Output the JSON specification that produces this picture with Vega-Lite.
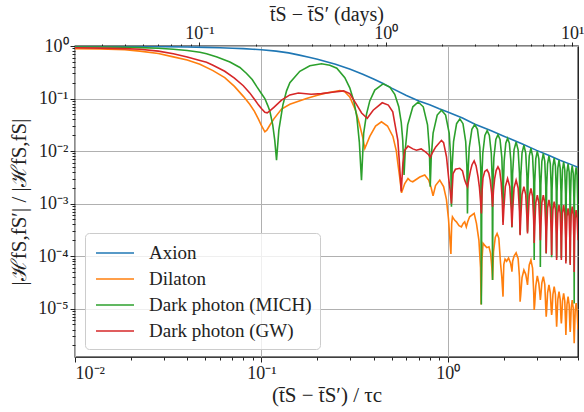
{
"$schema":"https://vega.github.io/schema/vega-lite/v6.json",
"width":503,"height":311,"autosize":"none",
"padding":{"left":75,"top":46,"right":6,"bottom":55},
"config":{"view":{"stroke":"#000","strokeWidth":1.3},"font":"Times New Roman",
 "axis":{"domain":false,"labelFont":"Times New Roman","labelFontSize":18,"labelColor":"#222","titleFont":"Times New Roman","titleFontSize":21,"titleFontWeight":"normal","titleColor":"#222","tickColor":"#222","tickWidth":1,"gridColor":"#b0b0b0","gridWidth":1,"labelOverlap":false,"labelBound":false}},
"data":{"values":[
{"s":"Axion","x":0.01,"y":0.99},{"s":"Axion","x":0.015,"y":0.985},{"s":"Axion","x":0.02,"y":0.98},{"s":"Axion","x":0.03,"y":0.97},{"s":"Axion","x":0.04,"y":0.955},{"s":"Axion","x":0.05,"y":0.94},{"s":"Axion","x":0.06,"y":0.925},{"s":"Axion","x":0.07,"y":0.905},{"s":"Axion","x":0.08,"y":0.89},{"s":"Axion","x":0.09,"y":0.87},{"s":"Axion","x":0.1,"y":0.85},{"s":"Axion","x":0.12,"y":0.8},{"s":"Axion","x":0.14,"y":0.74},{"s":"Axion","x":0.16,"y":0.67},{"s":"Axion","x":0.18,"y":0.61},{"s":"Axion","x":0.2,"y":0.56},{"s":"Axion","x":0.25,"y":0.45},{"s":"Axion","x":0.3,"y":0.36},{"s":"Axion","x":0.35,"y":0.29},{"s":"Axion","x":0.4,"y":0.235},{"s":"Axion","x":0.45,"y":0.193},{"s":"Axion","x":0.5,"y":0.158},{"s":"Axion","x":0.6,"y":0.114},{"s":"Axion","x":0.7,"y":0.09},{"s":"Axion","x":0.8,"y":0.076},{"s":"Axion","x":0.9,"y":0.064},{"s":"Axion","x":1.0,"y":0.0556},{"s":"Axion","x":1.2,"y":0.0425},{"s":"Axion","x":1.4,"y":0.0325},{"s":"Axion","x":1.7,"y":0.0245},{"s":"Axion","x":2.0,"y":0.0192},{"s":"Axion","x":2.5,"y":0.0138},{"s":"Axion","x":3.0,"y":0.0103},{"s":"Axion","x":3.5,"y":0.0082},{"s":"Axion","x":4.0,"y":0.0067},{"s":"Axion","x":4.5,"y":0.0057},{"s":"Axion","x":5.0,"y":0.0049},

{"s":"Dilaton","x":0.01,"y":0.89},{"s":"Dilaton","x":0.0136,"y":0.875},{"s":"Dilaton","x":0.0185,"y":0.85},{"s":"Dilaton","x":0.0223,"y":0.8},{"s":"Dilaton","x":0.028,"y":0.72},{"s":"Dilaton","x":0.0337,"y":0.62},{"s":"Dilaton","x":0.04,"y":0.54},{"s":"Dilaton","x":0.0468,"y":0.45},{"s":"Dilaton","x":0.055,"y":0.34},{"s":"Dilaton","x":0.0636,"y":0.25},{"s":"Dilaton","x":0.0717,"y":0.17},{"s":"Dilaton","x":0.08,"y":0.11},{"s":"Dilaton","x":0.0866,"y":0.078},{"s":"Dilaton","x":0.0918,"y":0.057},{"s":"Dilaton","x":0.0966,"y":0.04},{"s":"Dilaton","x":0.1003,"y":0.03},{"s":"Dilaton","x":0.1044,"y":0.0232},{"s":"Dilaton","x":0.107,"y":0.025},{"s":"Dilaton","x":0.111,"y":0.031},{"s":"Dilaton","x":0.1167,"y":0.041},{"s":"Dilaton","x":0.1283,"y":0.063},{"s":"Dilaton","x":0.1422,"y":0.078},{"s":"Dilaton","x":0.1745,"y":0.1},{"s":"Dilaton","x":0.198,"y":0.114},{"s":"Dilaton","x":0.2147,"y":0.124},{"s":"Dilaton","x":0.2638,"y":0.142},{"s":"Dilaton","x":0.28,"y":0.135},{"s":"Dilaton","x":0.2981,"y":0.107},{"s":"Dilaton","x":0.32,"y":0.06},{"s":"Dilaton","x":0.3357,"y":0.033},{"s":"Dilaton","x":0.35,"y":0.018},{"s":"Dilaton","x":0.359,"y":0.0112},{"s":"Dilaton","x":0.3817,"y":0.019},{"s":"Dilaton","x":0.41,"y":0.03},{"s":"Dilaton","x":0.441,"y":0.036},{"s":"Dilaton","x":0.475,"y":0.03},{"s":"Dilaton","x":0.508,"y":0.019},{"s":"Dilaton","x":0.53,"y":0.01},{"s":"Dilaton","x":0.54,"y":0.0058},{"s":"Dilaton","x":0.555,"y":0.0028},{"s":"Dilaton","x":0.5651,"y":0.0016},{"s":"Dilaton","x":0.588,"y":0.0024},{"s":"Dilaton","x":0.612,"y":0.003},{"s":"Dilaton","x":0.63,"y":0.0027},{"s":"Dilaton","x":0.649,"y":0.0026},{"s":"Dilaton","x":0.68,"y":0.0029},{"s":"Dilaton","x":0.708,"y":0.0032},{"s":"Dilaton","x":0.7527,"y":0.0035},{"s":"Dilaton","x":0.79,"y":0.0028},{"s":"Dilaton","x":0.815,"y":0.002},{"s":"Dilaton","x":0.834,"y":0.0014},{"s":"Dilaton","x":0.86,"y":0.0022},{"s":"Dilaton","x":0.906,"y":0.0028},{"s":"Dilaton","x":0.95,"y":0.0021},{"s":"Dilaton","x":0.984,"y":0.0012},{"s":"Dilaton","x":1.01,"y":0.0005},{"s":"Dilaton","x":1.04,"y":0.00011},{"s":"Dilaton","x":1.05,"y":0.00042},{"s":"Dilaton","x":1.06,"y":0.00056},{"s":"Dilaton","x":1.09,"y":0.00048},{"s":"Dilaton","x":1.113,"y":0.00045},{"s":"Dilaton","x":1.15,"y":0.00038},{"s":"Dilaton","x":1.184,"y":0.00036},{"s":"Dilaton","x":1.21,"y":0.00042},{"s":"Dilaton","x":1.233,"y":0.00045},{"s":"Dilaton","x":1.258,"y":0.00036},{"s":"Dilaton","x":1.28,"y":0.00045},{"s":"Dilaton","x":1.311,"y":0.00056},{"s":"Dilaton","x":1.386,"y":0.00065},{"s":"Dilaton","x":1.426,"y":0.00042},{"s":"Dilaton","x":1.47,"y":0.0002},{"s":"Dilaton","x":1.5,"y":0.00006},{"s":"Dilaton","x":1.51,"y":1.2e-5},{"s":"Dilaton","x":1.525,"y":0.00008},{"s":"Dilaton","x":1.547,"y":0.000175},{"s":"Dilaton","x":1.58,"y":0.00016},{"s":"Dilaton","x":1.62,"y":0.000145},{"s":"Dilaton","x":1.664,"y":0.00015},{"s":"Dilaton","x":1.7,"y":0.00011},{"s":"Dilaton","x":1.725,"y":0.00006},{"s":"Dilaton","x":1.74,"y":3.5e-5},{"s":"Dilaton","x":1.76,"y":0.00012},{"s":"Dilaton","x":1.8,"y":0.00023},{"s":"Dilaton","x":1.84,"y":0.00027},{"s":"Dilaton","x":1.88,"y":0.00022},{"s":"Dilaton","x":1.92,"y":7.3e-5},{"s":"Dilaton","x":1.95,"y":4e-5},{"s":"Dilaton","x":1.98,"y":1.69e-5},{"s":"Dilaton","x":1.99,"y":4e-5},{"s":"Dilaton","x":2.0,"y":7e-5},{"s":"Dilaton","x":2.03,"y":8.8e-5},{"s":"Dilaton","x":2.07,"y":8e-5},{"s":"Dilaton","x":2.12,"y":9.2e-5},{"s":"Dilaton","x":2.17,"y":7.5e-5},{"s":"Dilaton","x":2.2,"y":5.8e-5},{"s":"Dilaton","x":2.21,"y":5.05e-5},{"s":"Dilaton","x":2.23,"y":8e-5},{"s":"Dilaton","x":2.27,"y":0.0001},{"s":"Dilaton","x":2.3275,"y":0.000115},{"s":"Dilaton","x":2.386,"y":9e-5},{"s":"Dilaton","x":2.426,"y":4e-5},{"s":"Dilaton","x":2.445,"y":1.36e-5},{"s":"Dilaton","x":2.4638,"y":1.8e-5},{"s":"Dilaton","x":2.5038,"y":3.9e-5},{"s":"Dilaton","x":2.5625,"y":5.44e-5},{"s":"Dilaton","x":2.6213,"y":4.5e-5},{"s":"Dilaton","x":2.6612,"y":3.3e-5},{"s":"Dilaton","x":2.68,"y":2.82e-5},{"s":"Dilaton","x":2.6984,"y":4e-5},{"s":"Dilaton","x":2.7375,"y":6.8e-5},{"s":"Dilaton","x":2.795,"y":8.4e-5},{"s":"Dilaton","x":2.8525,"y":5.9e-5},{"s":"Dilaton","x":2.8916,"y":2.1e-5},{"s":"Dilaton","x":2.91,"y":9.4e-6},{"s":"Dilaton","x":2.9284,"y":1.2e-5},{"s":"Dilaton","x":2.9675,"y":2.7e-5},{"s":"Dilaton","x":3.025,"y":4.2e-5},{"s":"Dilaton","x":3.0825,"y":3e-5},{"s":"Dilaton","x":3.1216,"y":1.9e-5},{"s":"Dilaton","x":3.14,"y":1.46e-5},{"s":"Dilaton","x":3.1588,"y":1.8e-5},{"s":"Dilaton","x":3.1988,"y":3.1e-5},{"s":"Dilaton","x":3.2575,"y":4.07e-5},{"s":"Dilaton","x":3.3163,"y":2.9e-5},{"s":"Dilaton","x":3.3562,"y":1.1e-5},{"s":"Dilaton","x":3.375,"y":7.05e-6},{"s":"Dilaton","x":3.3938,"y":9e-6},{"s":"Dilaton","x":3.4338,"y":2e-5},{"s":"Dilaton","x":3.4925,"y":2.82e-5},{"s":"Dilaton","x":3.5513,"y":2e-5},{"s":"Dilaton","x":3.5912,"y":9.5e-6},{"s":"Dilaton","x":3.61,"y":7.6e-6},{"s":"Dilaton","x":3.6284,"y":9e-6},{"s":"Dilaton","x":3.6675,"y":1.86e-5},{"s":"Dilaton","x":3.725,"y":2.63e-5},{"s":"Dilaton","x":3.7825,"y":1.86e-5},{"s":"Dilaton","x":3.8216,"y":7e-6},{"s":"Dilaton","x":3.84,"y":4.55e-6},{"s":"Dilaton","x":3.8584,"y":6.5e-6},{"s":"Dilaton","x":3.8975,"y":1.5e-5},{"s":"Dilaton","x":3.955,"y":2.1e-5},{"s":"Dilaton","x":4.0125,"y":1.5e-5},{"s":"Dilaton","x":4.0516,"y":6.5e-6},{"s":"Dilaton","x":4.07,"y":5.2e-6},{"s":"Dilaton","x":4.0888,"y":6.5e-6},{"s":"Dilaton","x":4.1288,"y":1.4e-5},{"s":"Dilaton","x":4.1875,"y":1.96e-5},{"s":"Dilaton","x":4.2463,"y":1.4e-5},{"s":"Dilaton","x":4.2862,"y":5.5e-6},{"s":"Dilaton","x":4.305,"y":3.16e-6},{"s":"Dilaton","x":4.3238,"y":5e-6},{"s":"Dilaton","x":4.3638,"y":1.2e-5},{"s":"Dilaton","x":4.4225,"y":1.69e-5},{"s":"Dilaton","x":4.4813,"y":1.2e-5},{"s":"Dilaton","x":4.5212,"y":4.8e-6},{"s":"Dilaton","x":4.54,"y":3.6e-6},{"s":"Dilaton","x":4.5584,"y":4.5e-6},{"s":"Dilaton","x":4.5975,"y":1.03e-5},{"s":"Dilaton","x":4.655,"y":1.46e-5},{"s":"Dilaton","x":4.7125,"y":1.03e-5},{"s":"Dilaton","x":4.7516,"y":3.6e-6},{"s":"Dilaton","x":4.77,"y":2.2e-6},{"s":"Dilaton","x":4.7884,"y":3.5e-6},{"s":"Dilaton","x":4.8275,"y":9e-6},{"s":"Dilaton","x":4.885,"y":1.28e-5},{"s":"Dilaton","x":4.9425,"y":9e-6},{"s":"Dilaton","x":5.0,"y":4e-6},

{"s":"Dark photon (MICH)","x":0.01,"y":0.96},{"s":"Dark photon (MICH)","x":0.0136,"y":0.955},{"s":"Dark photon (MICH)","x":0.0185,"y":0.945},{"s":"Dark photon (MICH)","x":0.0223,"y":0.932},{"s":"Dark photon (MICH)","x":0.028,"y":0.905},{"s":"Dark photon (MICH)","x":0.0337,"y":0.866},{"s":"Dark photon (MICH)","x":0.04,"y":0.82},{"s":"Dark photon (MICH)","x":0.0468,"y":0.76},{"s":"Dark photon (MICH)","x":0.0508,"y":0.71},{"s":"Dark photon (MICH)","x":0.0578,"y":0.62},{"s":"Dark photon (MICH)","x":0.0678,"y":0.496},{"s":"Dark photon (MICH)","x":0.0767,"y":0.39},{"s":"Dark photon (MICH)","x":0.0833,"y":0.3},{"s":"Dark photon (MICH)","x":0.0893,"y":0.23},{"s":"Dark photon (MICH)","x":0.0943,"y":0.17},{"s":"Dark photon (MICH)","x":0.1,"y":0.125},{"s":"Dark photon (MICH)","x":0.1044,"y":0.1},{"s":"Dark photon (MICH)","x":0.108,"y":0.075},{"s":"Dark photon (MICH)","x":0.111,"y":0.058},{"s":"Dark photon (MICH)","x":0.115,"y":0.032},{"s":"Dark photon (MICH)","x":0.118,"y":0.016},{"s":"Dark photon (MICH)","x":0.1206,"y":0.0067},{"s":"Dark photon (MICH)","x":0.1241,"y":0.025},{"s":"Dark photon (MICH)","x":0.1283,"y":0.052},{"s":"Dark photon (MICH)","x":0.1304,"y":0.075},{"s":"Dark photon (MICH)","x":0.1365,"y":0.14},{"s":"Dark photon (MICH)","x":0.1422,"y":0.2},{"s":"Dark photon (MICH)","x":0.1608,"y":0.33},{"s":"Dark photon (MICH)","x":0.182,"y":0.42},{"s":"Dark photon (MICH)","x":0.2102,"y":0.46},{"s":"Dark photon (MICH)","x":0.233,"y":0.43},{"s":"Dark photon (MICH)","x":0.254,"y":0.377},{"s":"Dark photon (MICH)","x":0.2804,"y":0.25},{"s":"Dark photon (MICH)","x":0.2981,"y":0.16},{"s":"Dark photon (MICH)","x":0.3133,"y":0.09},{"s":"Dark photon (MICH)","x":0.3252,"y":0.045},{"s":"Dark photon (MICH)","x":0.3354,"y":0.015},{"s":"Dark photon (MICH)","x":0.3445,"y":0.0028},{"s":"Dark photon (MICH)","x":0.354,"y":0.022},{"s":"Dark photon (MICH)","x":0.3664,"y":0.05},{"s":"Dark photon (MICH)","x":0.3817,"y":0.09},{"s":"Dark photon (MICH)","x":0.4061,"y":0.145},{"s":"Dark photon (MICH)","x":0.4497,"y":0.19},{"s":"Dark photon (MICH)","x":0.4887,"y":0.165},{"s":"Dark photon (MICH)","x":0.5197,"y":0.12},{"s":"Dark photon (MICH)","x":0.546,"y":0.07},{"s":"Dark photon (MICH)","x":0.5631,"y":0.035},{"s":"Dark photon (MICH)","x":0.5737,"y":0.016},{"s":"Dark photon (MICH)","x":0.583,"y":0.0035},{"s":"Dark photon (MICH)","x":0.592,"y":0.0108},{"s":"Dark photon (MICH)","x":0.6097,"y":0.0316},{"s":"Dark photon (MICH)","x":0.6498,"y":0.0696},{"s":"Dark photon (MICH)","x":0.6944,"y":0.086},{"s":"Dark photon (MICH)","x":0.739,"y":0.0696},{"s":"Dark photon (MICH)","x":0.779,"y":0.0316},{"s":"Dark photon (MICH)","x":0.797,"y":0.0108},{"s":"Dark photon (MICH)","x":0.8057,"y":0.0021},{"s":"Dark photon (MICH)","x":0.8153,"y":0.0075},{"s":"Dark photon (MICH)","x":0.8346,"y":0.022},{"s":"Dark photon (MICH)","x":0.878,"y":0.0485},{"s":"Dark photon (MICH)","x":0.926,"y":0.06},{"s":"Dark photon (MICH)","x":0.974,"y":0.0485},{"s":"Dark photon (MICH)","x":1.018,"y":0.022},{"s":"Dark photon (MICH)","x":1.037,"y":0.0075},{"s":"Dark photon (MICH)","x":1.047,"y":0.00087},{"s":"Dark photon (MICH)","x":1.056,"y":0.0051},{"s":"Dark photon (MICH)","x":1.0745,"y":0.0151},{"s":"Dark photon (MICH)","x":1.1157,"y":0.0332},{"s":"Dark photon (MICH)","x":1.1615,"y":0.041},{"s":"Dark photon (MICH)","x":1.2073,"y":0.0332},{"s":"Dark photon (MICH)","x":1.2485,"y":0.0151},{"s":"Dark photon (MICH)","x":1.267,"y":0.0051},{"s":"Dark photon (MICH)","x":1.276,"y":0.00065},{"s":"Dark photon (MICH)","x":1.2856,"y":0.004},{"s":"Dark photon (MICH)","x":1.3047,"y":0.0118},{"s":"Dark photon (MICH)","x":1.3477,"y":0.0259},{"s":"Dark photon (MICH)","x":1.3955,"y":0.032},{"s":"Dark photon (MICH)","x":1.4433,"y":0.0259},{"s":"Dark photon (MICH)","x":1.4863,"y":0.0118},{"s":"Dark photon (MICH)","x":1.5054,"y":0.004},{"s":"Dark photon (MICH)","x":1.515,"y":1.2e-5},{"s":"Dark photon (MICH)","x":1.524,"y":0.0031},{"s":"Dark photon (MICH)","x":1.542,"y":0.009},{"s":"Dark photon (MICH)","x":1.5825,"y":0.0198},{"s":"Dark photon (MICH)","x":1.6275,"y":0.0245},{"s":"Dark photon (MICH)","x":1.6725,"y":0.0198},{"s":"Dark photon (MICH)","x":1.713,"y":0.009},{"s":"Dark photon (MICH)","x":1.731,"y":0.0031},{"s":"Dark photon (MICH)","x":1.74,"y":3.5e-5},{"s":"Dark photon (MICH)","x":1.7496,"y":0.0026},{"s":"Dark photon (MICH)","x":1.7688,"y":0.0075},{"s":"Dark photon (MICH)","x":1.812,"y":0.0166},{"s":"Dark photon (MICH)","x":1.86,"y":0.0205},{"s":"Dark photon (MICH)","x":1.908,"y":0.0166},{"s":"Dark photon (MICH)","x":1.9512,"y":0.0075},{"s":"Dark photon (MICH)","x":1.9704,"y":0.0026},{"s":"Dark photon (MICH)","x":1.98,"y":0.00045},{"s":"Dark photon (MICH)","x":1.9892,"y":0.00218},{"s":"Dark photon (MICH)","x":2.0076,"y":0.0064},{"s":"Dark photon (MICH)","x":2.049,"y":0.0141},{"s":"Dark photon (MICH)","x":2.095,"y":0.0174},{"s":"Dark photon (MICH)","x":2.141,"y":0.0141},{"s":"Dark photon (MICH)","x":2.1824,"y":0.0064},{"s":"Dark photon (MICH)","x":2.2008,"y":0.00218},{"s":"Dark photon (MICH)","x":2.21,"y":0.00035},{"s":"Dark photon (MICH)","x":2.2288,"y":0.00371},{"s":"Dark photon (MICH)","x":2.2688,"y":0.01053},{"s":"Dark photon (MICH)","x":2.3275,"y":0.0149},{"s":"Dark photon (MICH)","x":2.3863,"y":0.01053},{"s":"Dark photon (MICH)","x":2.4262,"y":0.00371},{"s":"Dark photon (MICH)","x":2.445,"y":0.00026},{"s":"Dark photon (MICH)","x":2.4638,"y":0.00321},{"s":"Dark photon (MICH)","x":2.5038,"y":0.00912},{"s":"Dark photon (MICH)","x":2.5625,"y":0.0129},{"s":"Dark photon (MICH)","x":2.6213,"y":0.00912},{"s":"Dark photon (MICH)","x":2.6612,"y":0.00321},{"s":"Dark photon (MICH)","x":2.68,"y":0.00029},{"s":"Dark photon (MICH)","x":2.6984,"y":0.00281},{"s":"Dark photon (MICH)","x":2.7375,"y":0.00799},{"s":"Dark photon (MICH)","x":2.795,"y":0.0113},{"s":"Dark photon (MICH)","x":2.8525,"y":0.00799},{"s":"Dark photon (MICH)","x":2.8916,"y":0.00281},{"s":"Dark photon (MICH)","x":2.91,"y":8.4e-5},{"s":"Dark photon (MICH)","x":2.9284,"y":0.00249},{"s":"Dark photon (MICH)","x":2.9675,"y":0.00707},{"s":"Dark photon (MICH)","x":3.025,"y":0.01},{"s":"Dark photon (MICH)","x":3.0825,"y":0.00707},{"s":"Dark photon (MICH)","x":3.1216,"y":0.00249},{"s":"Dark photon (MICH)","x":3.14,"y":6.2e-5},{"s":"Dark photon (MICH)","x":3.1588,"y":0.00224},{"s":"Dark photon (MICH)","x":3.1988,"y":0.00636},{"s":"Dark photon (MICH)","x":3.2575,"y":0.009},{"s":"Dark photon (MICH)","x":3.3163,"y":0.00636},{"s":"Dark photon (MICH)","x":3.3562,"y":0.00224},{"s":"Dark photon (MICH)","x":3.375,"y":0.000112},{"s":"Dark photon (MICH)","x":3.3938,"y":0.00202},{"s":"Dark photon (MICH)","x":3.4338,"y":0.00573},{"s":"Dark photon (MICH)","x":3.4925,"y":0.0081},{"s":"Dark photon (MICH)","x":3.5513,"y":0.00573},{"s":"Dark photon (MICH)","x":3.5912,"y":0.00202},{"s":"Dark photon (MICH)","x":3.61,"y":9.5e-5},{"s":"Dark photon (MICH)","x":3.6284,"y":0.00182},{"s":"Dark photon (MICH)","x":3.6675,"y":0.00516},{"s":"Dark photon (MICH)","x":3.725,"y":0.0073},{"s":"Dark photon (MICH)","x":3.7825,"y":0.00516},{"s":"Dark photon (MICH)","x":3.8216,"y":0.00182},{"s":"Dark photon (MICH)","x":3.84,"y":9.2e-5},{"s":"Dark photon (MICH)","x":3.8584,"y":0.00167},{"s":"Dark photon (MICH)","x":3.8975,"y":0.00474},{"s":"Dark photon (MICH)","x":3.955,"y":0.0067},{"s":"Dark photon (MICH)","x":4.0125,"y":0.00474},{"s":"Dark photon (MICH)","x":4.0516,"y":0.00167},{"s":"Dark photon (MICH)","x":4.07,"y":9.2e-5},{"s":"Dark photon (MICH)","x":4.0888,"y":0.00154},{"s":"Dark photon (MICH)","x":4.1288,"y":0.00438},{"s":"Dark photon (MICH)","x":4.1875,"y":0.0062},{"s":"Dark photon (MICH)","x":4.2463,"y":0.00438},{"s":"Dark photon (MICH)","x":4.2862,"y":0.00154},{"s":"Dark photon (MICH)","x":4.305,"y":8e-5},{"s":"Dark photon (MICH)","x":4.3238,"y":0.00142},{"s":"Dark photon (MICH)","x":4.3638,"y":0.00403},{"s":"Dark photon (MICH)","x":4.4225,"y":0.0057},{"s":"Dark photon (MICH)","x":4.4813,"y":0.00403},{"s":"Dark photon (MICH)","x":4.5212,"y":0.00142},{"s":"Dark photon (MICH)","x":4.54,"y":7.2e-5},{"s":"Dark photon (MICH)","x":4.5584,"y":0.00132},{"s":"Dark photon (MICH)","x":4.5975,"y":0.00375},{"s":"Dark photon (MICH)","x":4.655,"y":0.0053},{"s":"Dark photon (MICH)","x":4.7125,"y":0.00375},{"s":"Dark photon (MICH)","x":4.7516,"y":0.00132},{"s":"Dark photon (MICH)","x":4.77,"y":1.25e-5},{"s":"Dark photon (MICH)","x":4.7884,"y":0.00122},{"s":"Dark photon (MICH)","x":4.8275,"y":0.00346},{"s":"Dark photon (MICH)","x":4.885,"y":0.0049},{"s":"Dark photon (MICH)","x":4.9425,"y":0.00346},{"s":"Dark photon (MICH)","x":4.98,"y":0.0012},{"s":"Dark photon (MICH)","x":5.0,"y":0.0004},

{"s":"Dark photon (GW)","x":0.01,"y":0.925},{"s":"Dark photon (GW)","x":0.0136,"y":0.912},{"s":"Dark photon (GW)","x":0.0185,"y":0.89},{"s":"Dark photon (GW)","x":0.0223,"y":0.865},{"s":"Dark photon (GW)","x":0.028,"y":0.8},{"s":"Dark photon (GW)","x":0.0337,"y":0.71},{"s":"Dark photon (GW)","x":0.04,"y":0.62},{"s":"Dark photon (GW)","x":0.0468,"y":0.53},{"s":"Dark photon (GW)","x":0.0508,"y":0.49},{"s":"Dark photon (GW)","x":0.055,"y":0.43},{"s":"Dark photon (GW)","x":0.0636,"y":0.33},{"s":"Dark photon (GW)","x":0.0717,"y":0.245},{"s":"Dark photon (GW)","x":0.08,"y":0.175},{"s":"Dark photon (GW)","x":0.0866,"y":0.128},{"s":"Dark photon (GW)","x":0.0918,"y":0.097},{"s":"Dark photon (GW)","x":0.0966,"y":0.075},{"s":"Dark photon (GW)","x":0.1003,"y":0.064},{"s":"Dark photon (GW)","x":0.1044,"y":0.0545},{"s":"Dark photon (GW)","x":0.1075,"y":0.0533},{"s":"Dark photon (GW)","x":0.111,"y":0.058},{"s":"Dark photon (GW)","x":0.1167,"y":0.068},{"s":"Dark photon (GW)","x":0.1283,"y":0.093},{"s":"Dark photon (GW)","x":0.1422,"y":0.117},{"s":"Dark photon (GW)","x":0.158,"y":0.127},{"s":"Dark photon (GW)","x":0.185,"y":0.121},{"s":"Dark photon (GW)","x":0.21,"y":0.124},{"s":"Dark photon (GW)","x":0.24,"y":0.132},{"s":"Dark photon (GW)","x":0.276,"y":0.14},{"s":"Dark photon (GW)","x":0.2981,"y":0.124},{"s":"Dark photon (GW)","x":0.322,"y":0.08},{"s":"Dark photon (GW)","x":0.345,"y":0.053},{"s":"Dark photon (GW)","x":0.37,"y":0.042},{"s":"Dark photon (GW)","x":0.398,"y":0.06},{"s":"Dark photon (GW)","x":0.445,"y":0.083},{"s":"Dark photon (GW)","x":0.48,"y":0.075},{"s":"Dark photon (GW)","x":0.507,"y":0.056},{"s":"Dark photon (GW)","x":0.5197,"y":0.034},{"s":"Dark photon (GW)","x":0.5398,"y":0.016},{"s":"Dark photon (GW)","x":0.548,"y":0.0075},{"s":"Dark photon (GW)","x":0.5631,"y":0.0017},{"s":"Dark photon (GW)","x":0.575,"y":0.006},{"s":"Dark photon (GW)","x":0.588,"y":0.0104},{"s":"Dark photon (GW)","x":0.612,"y":0.0124},{"s":"Dark photon (GW)","x":0.65,"y":0.011},{"s":"Dark photon (GW)","x":0.6795,"y":0.0104},{"s":"Dark photon (GW)","x":0.72,"y":0.011},{"s":"Dark photon (GW)","x":0.7621,"y":0.0095},{"s":"Dark photon (GW)","x":0.79,"y":0.0085},{"s":"Dark photon (GW)","x":0.8057,"y":0.0076},{"s":"Dark photon (GW)","x":0.83,"y":0.0095},{"s":"Dark photon (GW)","x":0.8624,"y":0.012},{"s":"Dark photon (GW)","x":0.9252,"y":0.016},{"s":"Dark photon (GW)","x":0.95,"y":0.0145},{"s":"Dark photon (GW)","x":0.9846,"y":0.0078},{"s":"Dark photon (GW)","x":1.012,"y":0.003},{"s":"Dark photon (GW)","x":1.03,"y":0.0018},{"s":"Dark photon (GW)","x":1.047,"y":0.001},{"s":"Dark photon (GW)","x":1.068,"y":0.0037},{"s":"Dark photon (GW)","x":1.1,"y":0.0045},{"s":"Dark photon (GW)","x":1.16,"y":0.0047},{"s":"Dark photon (GW)","x":1.2,"y":0.0042},{"s":"Dark photon (GW)","x":1.233,"y":0.0028},{"s":"Dark photon (GW)","x":1.26,"y":0.0023},{"s":"Dark photon (GW)","x":1.276,"y":0.0021},{"s":"Dark photon (GW)","x":1.3,"y":0.003},{"s":"Dark photon (GW)","x":1.324,"y":0.0042},{"s":"Dark photon (GW)","x":1.35,"y":0.0055},{"s":"Dark photon (GW)","x":1.386,"y":0.0065},{"s":"Dark photon (GW)","x":1.42,"y":0.0052},{"s":"Dark photon (GW)","x":1.455,"y":0.0032},{"s":"Dark photon (GW)","x":1.48,"y":0.002},{"s":"Dark photon (GW)","x":1.5,"y":0.0011},{"s":"Dark photon (GW)","x":1.515,"y":0.00065},{"s":"Dark photon (GW)","x":1.53,"y":0.0018},{"s":"Dark photon (GW)","x":1.546,"y":0.0031},{"s":"Dark photon (GW)","x":1.58,"y":0.0041},{"s":"Dark photon (GW)","x":1.625,"y":0.0044},{"s":"Dark photon (GW)","x":1.66,"y":0.0038},{"s":"Dark photon (GW)","x":1.69,"y":0.0028},{"s":"Dark photon (GW)","x":1.72,"y":0.0016},{"s":"Dark photon (GW)","x":1.74,"y":0.00087},{"s":"Dark photon (GW)","x":1.76,"y":0.0018},{"s":"Dark photon (GW)","x":1.786,"y":0.003},{"s":"Dark photon (GW)","x":1.82,"y":0.0043},{"s":"Dark photon (GW)","x":1.86,"y":0.005},{"s":"Dark photon (GW)","x":1.9,"y":0.0043},{"s":"Dark photon (GW)","x":1.935,"y":0.0025},{"s":"Dark photon (GW)","x":1.96,"y":0.0012},{"s":"Dark photon (GW)","x":1.98,"y":0.00039},{"s":"Dark photon (GW)","x":1.9984,"y":0.00075},{"s":"Dark photon (GW)","x":2.0375,"y":0.0021},{"s":"Dark photon (GW)","x":2.095,"y":0.003},{"s":"Dark photon (GW)","x":2.1525,"y":0.0021},{"s":"Dark photon (GW)","x":2.1916,"y":0.00075},{"s":"Dark photon (GW)","x":2.21,"y":0.00036},{"s":"Dark photon (GW)","x":2.2288,"y":0.0007},{"s":"Dark photon (GW)","x":2.2688,"y":0.00198},{"s":"Dark photon (GW)","x":2.3275,"y":0.0028},{"s":"Dark photon (GW)","x":2.3863,"y":0.00198},{"s":"Dark photon (GW)","x":2.4262,"y":0.0007},{"s":"Dark photon (GW)","x":2.445,"y":0.00025},{"s":"Dark photon (GW)","x":2.4638,"y":0.00052},{"s":"Dark photon (GW)","x":2.5038,"y":0.00148},{"s":"Dark photon (GW)","x":2.5625,"y":0.0021},{"s":"Dark photon (GW)","x":2.6213,"y":0.00148},{"s":"Dark photon (GW)","x":2.6612,"y":0.00052},{"s":"Dark photon (GW)","x":2.68,"y":0.00027},{"s":"Dark photon (GW)","x":2.6984,"y":0.00048},{"s":"Dark photon (GW)","x":2.7375,"y":0.00137},{"s":"Dark photon (GW)","x":2.795,"y":0.00194},{"s":"Dark photon (GW)","x":2.8525,"y":0.00137},{"s":"Dark photon (GW)","x":2.8916,"y":0.00048},{"s":"Dark photon (GW)","x":2.91,"y":0.000177},{"s":"Dark photon (GW)","x":2.9284,"y":0.00036},{"s":"Dark photon (GW)","x":2.9675,"y":0.00103},{"s":"Dark photon (GW)","x":3.025,"y":0.00145},{"s":"Dark photon (GW)","x":3.0825,"y":0.00103},{"s":"Dark photon (GW)","x":3.1216,"y":0.00036},{"s":"Dark photon (GW)","x":3.14,"y":0.0002},{"s":"Dark photon (GW)","x":3.1588,"y":0.00036},{"s":"Dark photon (GW)","x":3.1988,"y":0.00103},{"s":"Dark photon (GW)","x":3.2575,"y":0.00145},{"s":"Dark photon (GW)","x":3.3163,"y":0.00103},{"s":"Dark photon (GW)","x":3.3562,"y":0.00036},{"s":"Dark photon (GW)","x":3.375,"y":0.000114},{"s":"Dark photon (GW)","x":3.3938,"y":0.00029},{"s":"Dark photon (GW)","x":3.4338,"y":0.00083},{"s":"Dark photon (GW)","x":3.4925,"y":0.00117},{"s":"Dark photon (GW)","x":3.5513,"y":0.00083},{"s":"Dark photon (GW)","x":3.5912,"y":0.00029},{"s":"Dark photon (GW)","x":3.61,"y":0.000105},{"s":"Dark photon (GW)","x":3.6284,"y":0.00027},{"s":"Dark photon (GW)","x":3.6675,"y":0.00077},{"s":"Dark photon (GW)","x":3.725,"y":0.00109},{"s":"Dark photon (GW)","x":3.7825,"y":0.00077},{"s":"Dark photon (GW)","x":3.8216,"y":0.00027},{"s":"Dark photon (GW)","x":3.84,"y":8.4e-5},{"s":"Dark photon (GW)","x":3.8584,"y":0.00023},{"s":"Dark photon (GW)","x":3.8975,"y":0.00066},{"s":"Dark photon (GW)","x":3.955,"y":0.00094},{"s":"Dark photon (GW)","x":4.0125,"y":0.00066},{"s":"Dark photon (GW)","x":4.0516,"y":0.00023},{"s":"Dark photon (GW)","x":4.07,"y":8.4e-5},{"s":"Dark photon (GW)","x":4.0888,"y":0.00023},{"s":"Dark photon (GW)","x":4.1288,"y":0.00066},{"s":"Dark photon (GW)","x":4.1875,"y":0.00094},{"s":"Dark photon (GW)","x":4.2463,"y":0.00066},{"s":"Dark photon (GW)","x":4.2862,"y":0.00023},{"s":"Dark photon (GW)","x":4.305,"y":7.2e-5},{"s":"Dark photon (GW)","x":4.3238,"y":0.0002},{"s":"Dark photon (GW)","x":4.3638,"y":0.00057},{"s":"Dark photon (GW)","x":4.4225,"y":0.00081},{"s":"Dark photon (GW)","x":4.4813,"y":0.00057},{"s":"Dark photon (GW)","x":4.5212,"y":0.0002},{"s":"Dark photon (GW)","x":4.54,"y":6.8e-5},{"s":"Dark photon (GW)","x":4.5584,"y":0.00022},{"s":"Dark photon (GW)","x":4.5975,"y":0.00062},{"s":"Dark photon (GW)","x":4.655,"y":0.00088},{"s":"Dark photon (GW)","x":4.7125,"y":0.00062},{"s":"Dark photon (GW)","x":4.7516,"y":0.00022},{"s":"Dark photon (GW)","x":4.77,"y":5e-5},{"s":"Dark photon (GW)","x":4.7884,"y":0.00019},{"s":"Dark photon (GW)","x":4.8275,"y":0.00053},{"s":"Dark photon (GW)","x":4.885,"y":0.00075},{"s":"Dark photon (GW)","x":4.9425,"y":0.00053},{"s":"Dark photon (GW)","x":5.0,"y":0.0002}
]},
"layer":[
{"mark":{"type":"line","strokeWidth":1.6,"clip":true},
 "encoding":{
  "x":{"field":"x","type":"quantitative","scale":{"type":"log","domain":[0.01,5],"nice":false},
   "axis":{"orient":"bottom","title":"(t̄S − t̄S′) / τc","values":[0.01,0.02,0.03,0.04,0.05,0.06,0.07,0.08,0.09,0.1,0.2,0.3,0.4,0.5,0.6,0.7,0.8,0.9,1,2,3,4,5],
    "labelExpr":"abs(log(datum.value)/LN10-round(log(datum.value)/LN10))>0.001 ? '' : '10' + (round(log(datum.value)/LN10)<0 ? '⁻' : '') + substring('⁰¹²³⁴⁵⁶⁷⁸⁹', abs(round(log(datum.value)/LN10)), abs(round(log(datum.value)/LN10))+1)",
    "tickSize":{"condition":{"test":"abs(log(datum.value)/LN10-round(log(datum.value)/LN10))<0.001","value":5},"value":3},
    "gridOpacity":{"condition":{"test":"abs(log(datum.value)/LN10-round(log(datum.value)/LN10))<0.001","value":1},"value":0},
    "grid":true,"labelPadding":2,"titlePadding":2}},
  "y":{"field":"y","type":"quantitative","scale":{"type":"log","domain":[1.2e-6,1],"nice":false},
   "axis":{"title":"|ℋfS,fS′| / |ℋfS,fS|","values":[2e-6,3e-6,4e-6,5e-6,6e-6,7e-6,8e-6,9e-6,1e-5,2e-5,3e-5,4e-5,5e-5,6e-5,7e-5,8e-5,9e-5,1e-4,2e-4,3e-4,4e-4,5e-4,6e-4,7e-4,8e-4,9e-4,1e-3,2e-3,3e-3,4e-3,5e-3,6e-3,7e-3,8e-3,9e-3,0.01,0.02,0.03,0.04,0.05,0.06,0.07,0.08,0.09,0.1,0.2,0.3,0.4,0.5,0.6,0.7,0.8,0.9,1],
    "labelExpr":"abs(log(datum.value)/LN10-round(log(datum.value)/LN10))>0.001 ? '' : '10' + (round(log(datum.value)/LN10)<0 ? '⁻' : '') + substring('⁰¹²³⁴⁵⁶⁷⁸⁹', abs(round(log(datum.value)/LN10)), abs(round(log(datum.value)/LN10))+1)",
    "tickSize":{"condition":{"test":"abs(log(datum.value)/LN10-round(log(datum.value)/LN10))<0.001","value":5},"value":3},
    "gridOpacity":{"condition":{"test":"abs(log(datum.value)/LN10-round(log(datum.value)/LN10))<0.001","value":1},"value":0},
    "grid":true,"labelPadding":2,"titlePadding":8}},
  "color":{"field":"s","type":"nominal","sort":null,
   "scale":{"domain":["Axion","Dilaton","Dark photon (MICH)","Dark photon (GW)"],"range":["#1f77b4","#ff7f0e","#2ca02c","#d62728"]},
   "legend":{"title":null,"orient":"none","legendX":10,"legendY":187,"symbolType":"M-1.7,0H1.7","symbolSize":500,"symbolStrokeWidth":1.6,"labelOffset":22,"symbolOffset":10,"rowPadding":4,"padding":8,"labelFont":"Times New Roman","labelFontSize":19,"labelLimit":300,"labelColor":"#222","strokeColor":"#cccccc","fillColor":"rgba(255,255,255,0.8)","cornerRadius":4}}}},
{"mark":{"type":"point","opacity":0,"clip":true},
 "encoding":{
  "x":{"field":"x","type":"quantitative","scale":{"type":"log","domain":[0.0215,10.75],"nice":false},
   "axis":{"orient":"top","title":"t̄S − t̄S′ (days)","values":[0.03,0.04,0.05,0.06,0.07,0.08,0.09,0.1,0.2,0.3,0.4,0.5,0.6,0.7,0.8,0.9,1,2,3,4,5,6,7,8,9,10],
    "labelExpr":"abs(log(datum.value)/LN10-round(log(datum.value)/LN10))>0.001 ? '' : '10' + (round(log(datum.value)/LN10)<0 ? '⁻' : '') + substring('⁰¹²³⁴⁵⁶⁷⁸⁹', abs(round(log(datum.value)/LN10)), abs(round(log(datum.value)/LN10))+1)",
    "tickSize":{"condition":{"test":"abs(log(datum.value)/LN10-round(log(datum.value)/LN10))<0.001","value":4},"value":2},
    "grid":false,"labelPadding":0,"titlePadding":0,"titleFontSize":20}}}}
],
"resolve":{"scale":{"x":"independent"}}
}
